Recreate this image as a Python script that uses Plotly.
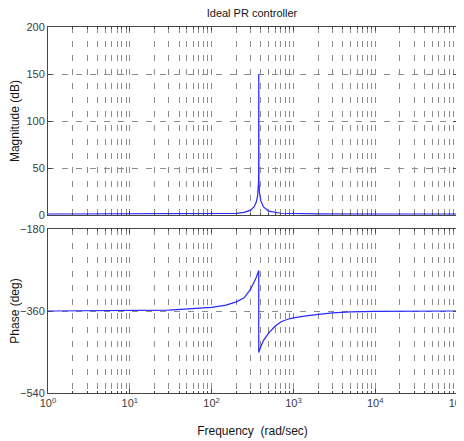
import plotly.graph_objects as go

# ---- data ----
mag_w = [1, 10, 100, 200, 250, 300, 330, 350, 365, 372, 375, 376.5, 377, 377.5, 379, 385, 400, 430, 500, 700, 1000, 2000, 10000, 100000]
mag_db = [1.2, 1.2, 1.3, 1.9, 2.9, 5.3, 8.7, 13.3, 20.2, 27.9, 35.9, 48, 150, 48, 35.9, 24, 15.1, 8.8, 4.3, 2.0, 1.5, 1.3, 1.2, 1.2]

ph_w = [1, 10, 30, 100, 150, 200, 250, 300, 330, 350, 365, 372, 376.9, 377.1, 380, 385, 400, 430, 500, 600, 700, 850, 1000, 1500, 2000, 3000, 5000, 10000, 100000]
ph_deg = [-360, -359.3, -358, -352, -347, -340, -331, -312, -298, -287, -278, -273, -271, -451, -449, -446, -438, -425, -408, -393, -384, -378, -375, -370, -367, -364, -362, -361, -360]

x_decades = [1, 10, 100, 1000, 10000, 100000]
x_ticktext = ["10<sup>0</sup>", "10<sup>1</sup>", "10<sup>2</sup>", "10<sup>3</sup>", "10<sup>4</sup>", "10<sup>5</sup>"]
x_minor = [m * d for d in [1, 10, 100, 1000, 10000] for m in range(2, 10)]
mag_ticks = [0, 50, 100, 150, 200]
ph_ticks = [-540, -360, -180]

title_text = "Ideal PR controller"
mag_label = "Magnitude (dB)"
ph_label = "Phase (deg)"
freq_label = "Frequency  (rad/sec)"

FONT = "Liberation Sans, Arial, sans-serif"
GRID = "rgb(140,140,140)"
FRAME = "rgb(70,70,70)"
DASH = "6px,8px"
LINE = "rgb(40,40,255)"
TICKFONT = dict(family=FONT, size=11, color="rgb(60,60,60)")
LABELFONT = dict(family=FONT, size=12, color="rgb(20,20,20)")

fig = go.Figure()
fig.add_trace(go.Scatter(x=mag_w, y=mag_db, mode="lines", line=dict(color=LINE, width=1.2),
                         xaxis="x", yaxis="y", showlegend=False))
fig.add_trace(go.Scatter(x=ph_w, y=ph_deg, mode="lines", line=dict(color=LINE, width=1.2),
                         xaxis="x2", yaxis="y2", showlegend=False))

def xax(show_labels, anchor):
    return dict(type="log", range=[0, 5], anchor=anchor, domain=[0, 1], automargin=False,
                tickmode="array", tickvals=x_decades, ticktext=x_ticktext,
                showticklabels=show_labels, ticks="inside", ticklen=4, tickcolor=FRAME,
                ticklabeloverflow="allow",
                showgrid=True, gridcolor=GRID, griddash=DASH, gridwidth=1,
                minor=dict(tickmode="array", tickvals=x_minor, ticks="inside", ticklen=2,
                           tickcolor=FRAME, showgrid=True, gridcolor=GRID, griddash=DASH, gridwidth=1),
                showline=True, linecolor=FRAME, linewidth=1, mirror="ticks",
                zeroline=False, tickfont=TICKFONT)

def yax(domain, rng, ticks, anchor, label):
    return dict(domain=domain, range=rng, anchor=anchor, automargin=False,
                tickmode="array", tickvals=ticks, ticks="inside", ticklen=4, tickcolor=FRAME,
                showgrid=True, gridcolor=GRID, griddash=DASH, gridwidth=1,
                showline=True, linecolor=FRAME, linewidth=1, mirror="ticks", zeroline=False,
                tickfont=TICKFONT, title=dict(text=label, font=LABELFONT, standoff=10))

layout_x = xax(False, "y")
layout_x2 = xax(True, "y2")
layout_x2["matches"] = "x"
layout_x2["title"] = dict(text=freq_label, font=LABELFONT, standoff=18)

# page body adds an 8px offset; figure sized to fill the rest of the window
fig.update_layout(
    width=456, height=433,
    margin=dict(l=40, r=7, t=19, b=48, autoexpand=False),
    paper_bgcolor="white", plot_bgcolor="white",
    title=dict(text=title_text, x=0.535, xanchor="center", y=0.988, yanchor="middle",
               font=dict(family=FONT, size=11, color="rgb(20,20,20)")),
    xaxis=layout_x,
    xaxis2=layout_x2,
    yaxis=yax([0.486, 1], [0, 200], mag_ticks, "x", mag_label),
    yaxis2=yax([0, 0.448], [-540, -180], ph_ticks, "x2", ph_label),
)

fig.write_html("out.html")
